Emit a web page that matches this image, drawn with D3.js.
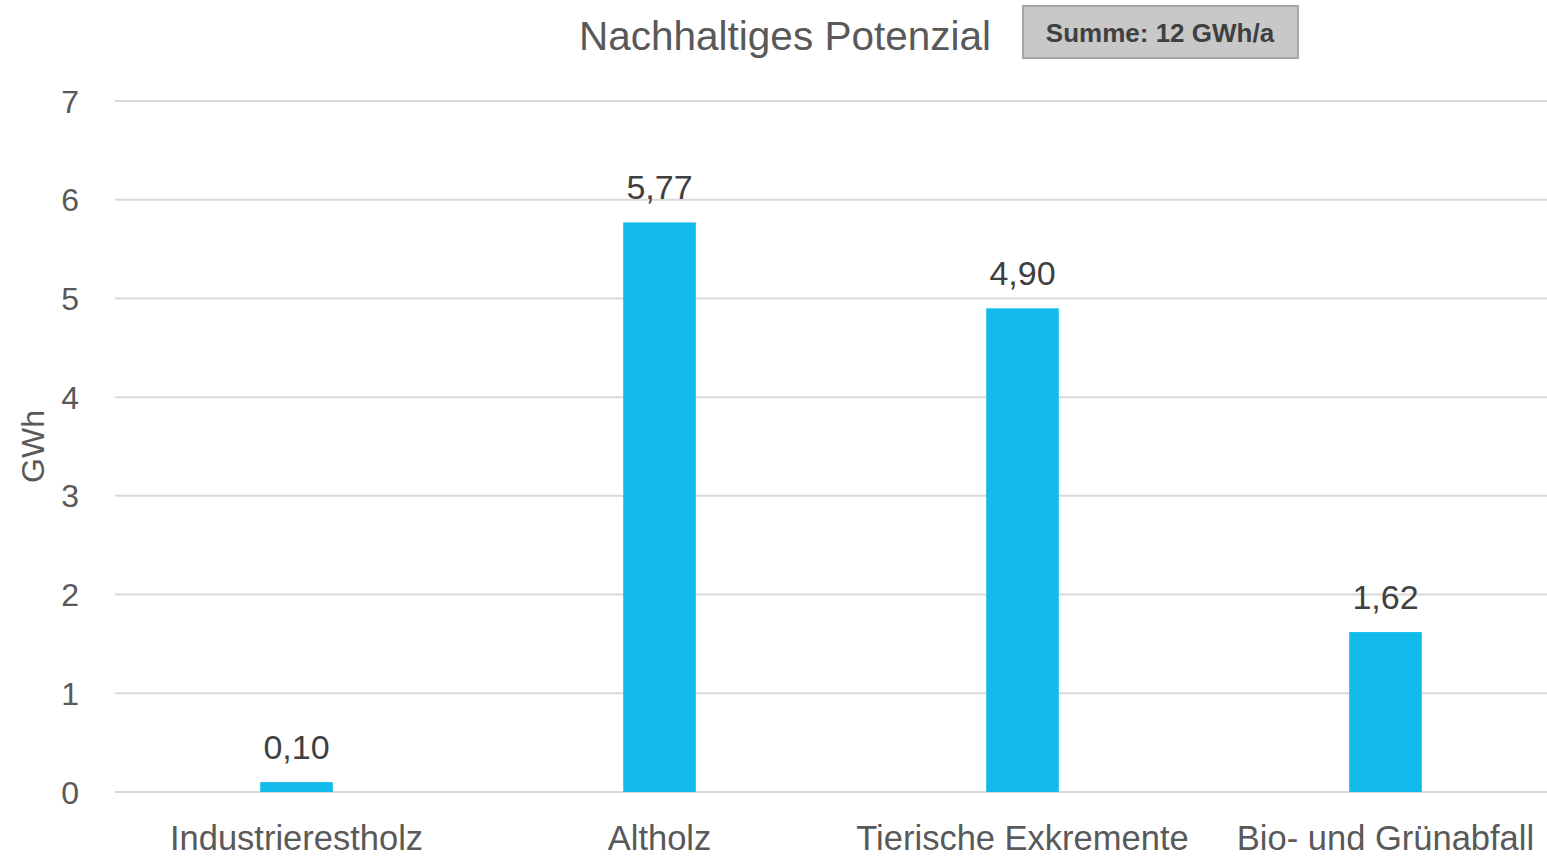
<!DOCTYPE html>
<html>
<head>
<meta charset="utf-8">
<script src="https://cdn.jsdelivr.net/npm/d3@7"></script>
<style>
  html, body { margin: 0; padding: 0; background: #fff; }
  svg { display: block; }
</style>
</head>
<body>
<svg id="chart" width="1547" height="856"></svg>
<script>
// Sustainable biomass potential by source (GWh)
const categories = ["Industrierestholz", "Altholz", "Tierische Exkremente", "Bio- und Grünabfall"];
const values = [0.10, 5.77, 4.90, 1.62];
const yTicks = [0, 1, 2, 3, 4, 5, 6, 7];
const titleText = "Nachhaltiges Potenzial";
const totalText = "Summe: 12 GWh/a";
const yAxisTitle = "GWh";

const svg = d3.select("#chart");
const W = 1547, H = 856;
const margin = { left: 115, top: 101 };
const plotBottom = 792;
const plotRight = 1567;

const x = d3.scaleBand().domain(categories).range([margin.left, plotRight]).paddingInner(0.8).paddingOuter(0.4);
const y = d3.scaleLinear().domain([0, 7]).range([plotBottom, margin.top]);

const fmt = v => d3.format(".2f")(v).replace(".", ",");
const font = "'Liberation Sans', Arial, sans-serif";

// gridlines
svg.append("g")
  .selectAll("line").data(yTicks).join("line")
  .attr("x1", margin.left).attr("x2", W)
  .attr("y1", d => y(d)).attr("y2", d => y(d))
  .attr("stroke", "#d9d9d9").attr("stroke-width", 2);

// y tick labels
svg.append("g")
  .selectAll("text").data(yTicks).join("text")
  .attr("x", 79).attr("y", d => y(d))
  .attr("dy", "0.36em")
  .attr("text-anchor", "end")
  .attr("font-family", font).attr("font-size", 32)
  .attr("fill", "#595959")
  .text(d => d);

// y axis title
svg.append("text")
  .attr("transform", `translate(44, ${y(3.5)}) rotate(-90)`)
  .attr("text-anchor", "middle")
  .attr("font-family", font).attr("font-size", 32)
  .attr("fill", "#595959")
  .text(yAxisTitle);

// bars
svg.append("g")
  .selectAll("rect").data(values).join("rect")
  .attr("x", (d, i) => x(categories[i]))
  .attr("width", x.bandwidth())
  .attr("y", d => y(d))
  .attr("height", d => y(0) - y(d))
  .attr("fill", "#13bbec");

// value labels
svg.append("g")
  .selectAll("text").data(values).join("text")
  .attr("x", (d, i) => x(categories[i]) + x.bandwidth() / 2)
  .attr("y", d => y(d) - 23)
  .attr("text-anchor", "middle")
  .attr("font-family", font).attr("font-size", 34)
  .attr("fill", "#404040")
  .text(d => fmt(d));

// category labels
svg.append("g")
  .selectAll("text").data(categories).join("text")
  .attr("x", d => x(d) + x.bandwidth() / 2)
  .attr("y", 850)
  .attr("text-anchor", "middle")
  .attr("font-family", font).attr("font-size", 34.5)
  .attr("fill", "#595959")
  .text(d => d);

// title
svg.append("text")
  .attr("x", 785).attr("y", 50)
  .attr("text-anchor", "middle")
  .attr("font-family", font).attr("font-size", 40.5)
  .attr("fill", "#595959")
  .text(titleText);

// total box
const box = svg.append("g");
box.append("rect")
  .attr("x", 1023).attr("y", 6).attr("width", 275).attr("height", 52)
  .attr("fill", "#c8c8c8").attr("stroke", "#a6a6a6").attr("stroke-width", 2);
box.append("text")
  .attr("x", 1160).attr("y", 42)
  .attr("text-anchor", "middle")
  .attr("font-family", font).attr("font-size", 26).attr("font-weight", "bold")
  .attr("fill", "#404040")
  .text(totalText);
</script>
</body>
</html>
